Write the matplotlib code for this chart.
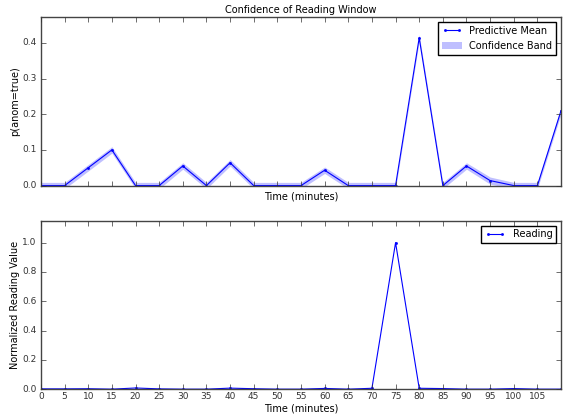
import matplotlib
matplotlib.use("Agg")
import matplotlib.pyplot as plt
import numpy as np

plt.style.use('classic')
plt.rcParams['font.family'] = ['DejaVu Sans']
plt.rcParams['font.size'] = 7

time_min = [0, 5, 10, 15, 20, 25, 30, 35, 40, 45, 50, 55, 60, 65, 70, 75, 80, 85, 90, 95, 100, 105, 110]
pred_mean = [0.0, 0.0, 0.05, 0.10, 0.0, 0.0, 0.055, 0.0, 0.064, 0.0, 0.0, 0.0, 0.043, 0.0, 0.0, 0.0,
             0.414, 0.0, 0.055, 0.014, 0.0, 0.0, 0.21]
pred_sd = [0.009, 0.009, 0.009, 0.009, 0.009, 0.009, 0.009, 0.009, 0.009, 0.009, 0.009, 0.009, 0.009,
           0.009, 0.009, 0.009, 0.009, 0.009, 0.009, 0.010, 0.009, 0.009, 0.009]
reading = [0.002, 0.002, 0.003, 0.0, 0.008, 0.002, 0.0, 0.0, 0.007, 0.003, 0.0, 0.0, 0.005, 0.0, 0.006,
           1.0, 0.006, 0.004, 0.0, 0.0, 0.004, 0.0, 0.0]
xtick_vals = list(range(0, 110, 5))

t = np.array(time_min)
m = np.array(pred_mean)
s = np.array(pred_sd)
r = np.array(reading)

fig = plt.figure(figsize=(5.69, 4.18), dpi=100)
fig.patch.set_facecolor('white')
ax1 = fig.add_axes([0.072, 0.556, 0.914, 0.403])
ax2 = fig.add_axes([0.072, 0.069, 0.914, 0.403], sharex=ax1)

ax1.fill_between(t, m - s, m + s, color='#0000ff', alpha=0.25, linewidth=0, label='Confidence Band')
ax1.plot(t, m, color='b', marker='.', markersize=3, linewidth=0.8, label='Predictive Mean')
ax1.set_ylim(0, 1.14 * max(m))
ax1.set_xlim(0, 110)
ax1.set_title('Confidence of Reading Window', fontsize=7, pad=3)
ax1.set_ylabel('p(anom=true)', labelpad=2)
ax1.set_xlabel('Time (minutes)', labelpad=4)
ax1.set_yticks([0.0, 0.1, 0.2, 0.3, 0.4])
plt.setp(ax1.get_xticklabels(), visible=False)
h, l = ax1.get_legend_handles_labels()
ax1.legend(h[::-1], l[::-1], loc='upper right', fontsize=7, numpoints=2)

ax2.plot(t, r, color='b', marker='.', markersize=3, linewidth=0.8, label='Reading')
ax2.set_ylim(0, 1.15 * max(r))
ax2.set_xlim(0, 110)
ax2.set_xticks(xtick_vals)
ax2.set_yticks([0.0, 0.2, 0.4, 0.6, 0.8, 1.0])
ax2.set_ylabel('Normalized Reading Value', labelpad=2)
ax2.set_xlabel('Time (minutes)', labelpad=2)
ax2.legend(loc='upper right', fontsize=7, numpoints=2)

for ax in (ax1, ax2):
    ax.tick_params(labelsize=6.5, length=3.5, colors='#333333')
    ax.tick_params(axis='x', pad=2)
    ax.tick_params(axis='y', pad=3)
    for sp in ax.spines.values():
        sp.set_color('#444444')

fig.savefig('out.png', dpi=100, facecolor='white')
